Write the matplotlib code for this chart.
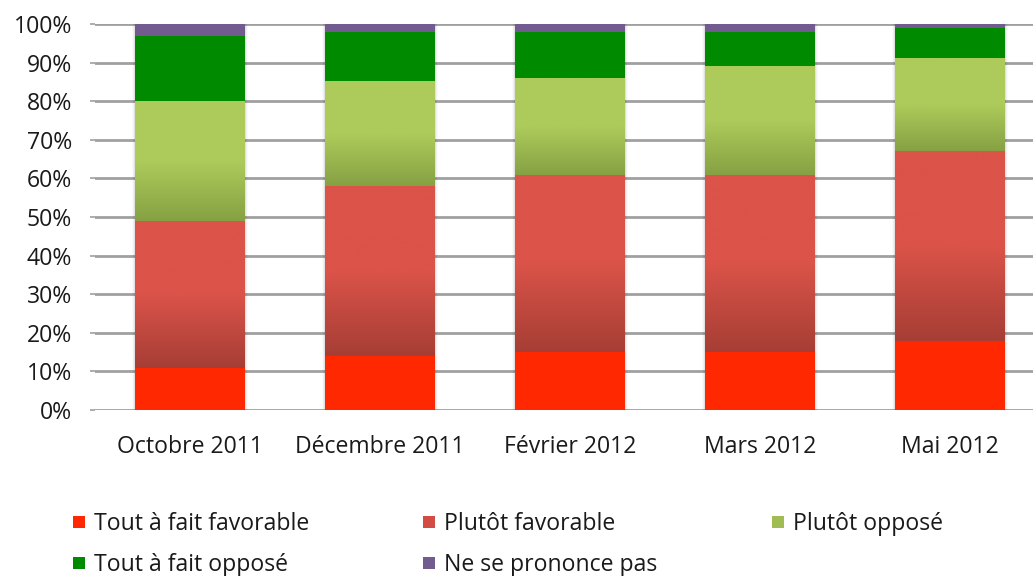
import numpy as np
import matplotlib.pyplot as plt
from matplotlib.colors import LinearSegmentedColormap
from matplotlib.patches import Rectangle

# ── Data (percent of respondents) ─────────────────────────────────────────────
periods = ['Octobre 2011', 'Décembre 2011', 'Février 2012', 'Mars 2012', 'Mai 2012']
series = ['Tout à fait favorable', 'Plutôt favorable', 'Plutôt opposé',
          'Tout à fait opposé', 'Ne se prononce pas']
tout_fav  = [11, 14, 15, 15, 18]
plutot_fav = [38, 44, 46, 46, 49]
plutot_opp = [31, 27, 25, 28, 24]
tout_opp  = [17, 13, 12, 9, 8]
nsp       = [3, 2, 2, 2, 1]
values = [tout_fav, plutot_fav, plutot_opp, tout_opp, nsp]

# ── Styles ────────────────────────────────────────────────────────────────────
FONT = 'Open Sans'
FS = 16.6
TXT = '#1a1a1a'
colors = ['#ff2800', '#d24c43', '#9fbd52', '#008a00', '#725c8f']
gradients = {1: ('#db5349', '#a63e35'),   # top, bottom
             2: ('#adcb5b', '#86a143')}

plt.rcParams['font.family'] = [FONT, 'DejaVu Sans']

fig = plt.figure(figsize=(10.33, 5.76), dpi=100)
W, H = 1033, 576
ax = fig.add_axes([95 / W, 1 - 410 / H, 950 / W, 386 / H])

x = np.arange(len(periods))
bottom = np.zeros(len(periods))
for i, (name, vals) in enumerate(zip(series, values)):
    vals = np.array(vals, dtype=float)
    bars = ax.bar(x, vals, 0.575, bottom=bottom, color=colors[i],
                  linewidth=0, zorder=3, label=name)
    if i in gradients:
        top_c, bot_c = gradients[i]
        cmap = LinearSegmentedColormap.from_list('g%d' % i, [bot_c, top_c, top_c])
        grad = np.linspace(0, 1, 256).reshape(-1, 1)
        for b in bars:
            ax.imshow(grad, cmap=cmap, origin='lower', aspect='auto',
                      extent=[b.get_x(), b.get_x() + b.get_width(),
                              b.get_y(), b.get_y() + b.get_height()],
                      zorder=3.5, interpolation='bilinear')
    bottom += vals

# soft shadow behind stacks
for xi, tot in zip(x, bottom):
    for k, a in enumerate([0.06, 0.04, 0.02]):
        d = 0.006 * (k + 1)
        ax.add_patch(Rectangle((xi - 0.2875 - d, 0 - 0.4 * (k + 1)), 0.575 + 2 * d,
                               tot + 0.4 * (k + 1), facecolor='black', alpha=a,
                               linewidth=0, zorder=2))

ax.set_xlim(-0.5, len(periods) - 0.5)
ax.set_ylim(0, 100)
ax.set_yticks(np.arange(0, 101, 10))
ax.set_yticklabels([f'{v}%' for v in range(0, 101, 10)], fontsize=FS, color=TXT)
ax.set_xticks(x)
ax.set_xticklabels(periods, fontsize=FS, color=TXT)
ax.tick_params(axis='x', length=0, pad=18)
ax.tick_params(axis='y', length=3.5, width=1.2, color='#a0a0a0', pad=13)
ax.grid(axis='y', color='#a0a0a0', linewidth=2, zorder=1)
ax.set_axisbelow(True)
for s in ax.spines.values():
    s.set_visible(False)

# ── Legend (three equal columns, Excel-style) ────────────────────────────────
col_x = [73, 423, 772]
row_y = [522, 563]
for i, name in enumerate(series):
    cx, cy = col_x[i % 3], row_y[i // 3]
    fig.add_artist(Rectangle((cx / W, 1 - (cy + 6) / H), 12 / W, 12 / H,
                             transform=fig.transFigure, facecolor=colors[i],
                             linewidth=0))
    fig.text((cx + 21) / W, 1 - (cy + 2) / H, name, fontsize=FS, va='center',
             ha='left', color=TXT)

fig.savefig('out.png', dpi=100, facecolor='white')
